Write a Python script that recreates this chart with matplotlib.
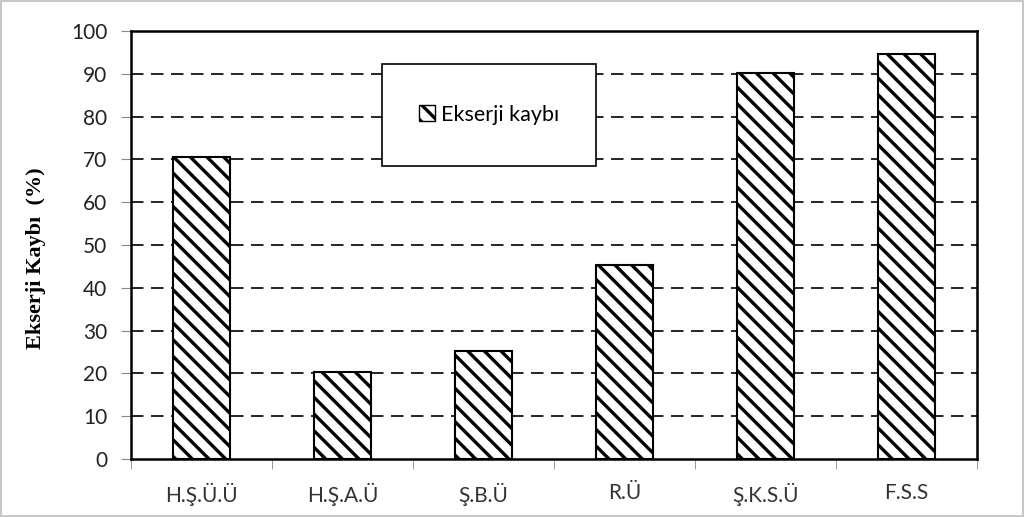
import matplotlib
matplotlib.use("Agg")
import matplotlib.pyplot as plt
from matplotlib.patches import Rectangle, Patch

categories = ["H.Ş.Ü.Ü", "H.Ş.A.Ü", "Ş.B.Ü", "R.Ü", "Ş.K.S.Ü", "F.S.S"]
values = [70.6, 20.3, 25.2, 45.3, 90.2, 94.6]
yticks = list(range(0, 101, 10))

plt.rcParams["font.family"] = ["Lato", "DejaVu Sans"]
plt.rcParams["hatch.linewidth"] = 2.4

fig = plt.figure(figsize=(10.24, 5.17), dpi=100)
fig.patch.set_edgecolor("#c8c8c8")
fig.patch.set_linewidth(1.5)
ax = fig.add_axes([131 / 1024, 1 - 459 / 517, 846 / 1024, 428 / 517])

x = list(range(len(categories)))
ax.bar(x, values, width=0.4, color="white", edgecolor="black",
       hatch="\\\\", linewidth=1.5, zorder=3)

ax.set_xlim(-0.5, len(categories) - 0.5)
ax.set_ylim(0, 100)
ax.set_yticks(yticks)
ax.set_yticklabels([str(v) for v in yticks], fontsize=15, color="#222222")
for v in yticks[1:-1]:
    ax.axhline(v, color="black", lw=1.2, ls=(0, (7.5, 4.5)), zorder=1)

ax.set_xticks(x)
ax.set_xticklabels(categories, fontsize=15, color="#333333")
ax.tick_params(axis="x", length=0, pad=17)
# ticks on the category boundaries
ax.set_xticks([i - 0.5 for i in range(len(categories) + 1)], minor=True)
ax.tick_params(axis="x", which="minor", length=7, color="#888888", direction="out")
ax.tick_params(axis="y", length=7, color="#888888", direction="out", pad=10)

for s in ax.spines.values():
    s.set_color("black")
    s.set_linewidth(1.8)

ax.set_ylabel("Ekserji Kaybı  (%)", fontsize=16, fontweight="bold",
              family="Liberation Serif")
ax.yaxis.set_label_coords(-0.1, 0.47)

# legend box
ax.add_patch(Rectangle((0.297, 0.685), 0.253, 0.238, transform=ax.transAxes,
                       facecolor="white", edgecolor="black", lw=1.2, zorder=5))
leg = ax.legend(handles=[Patch(facecolor="white", edgecolor="black", hatch="\\\\",
                               label="Ekserji kaybı")],
                loc="center", bbox_to_anchor=(0.4235, 0.804), frameon=False,
                fontsize=15.5, handlelength=0.75, handleheight=0.75, handletextpad=0.3)
leg.set_zorder(6)

fig.savefig("out.png", dpi=100)
